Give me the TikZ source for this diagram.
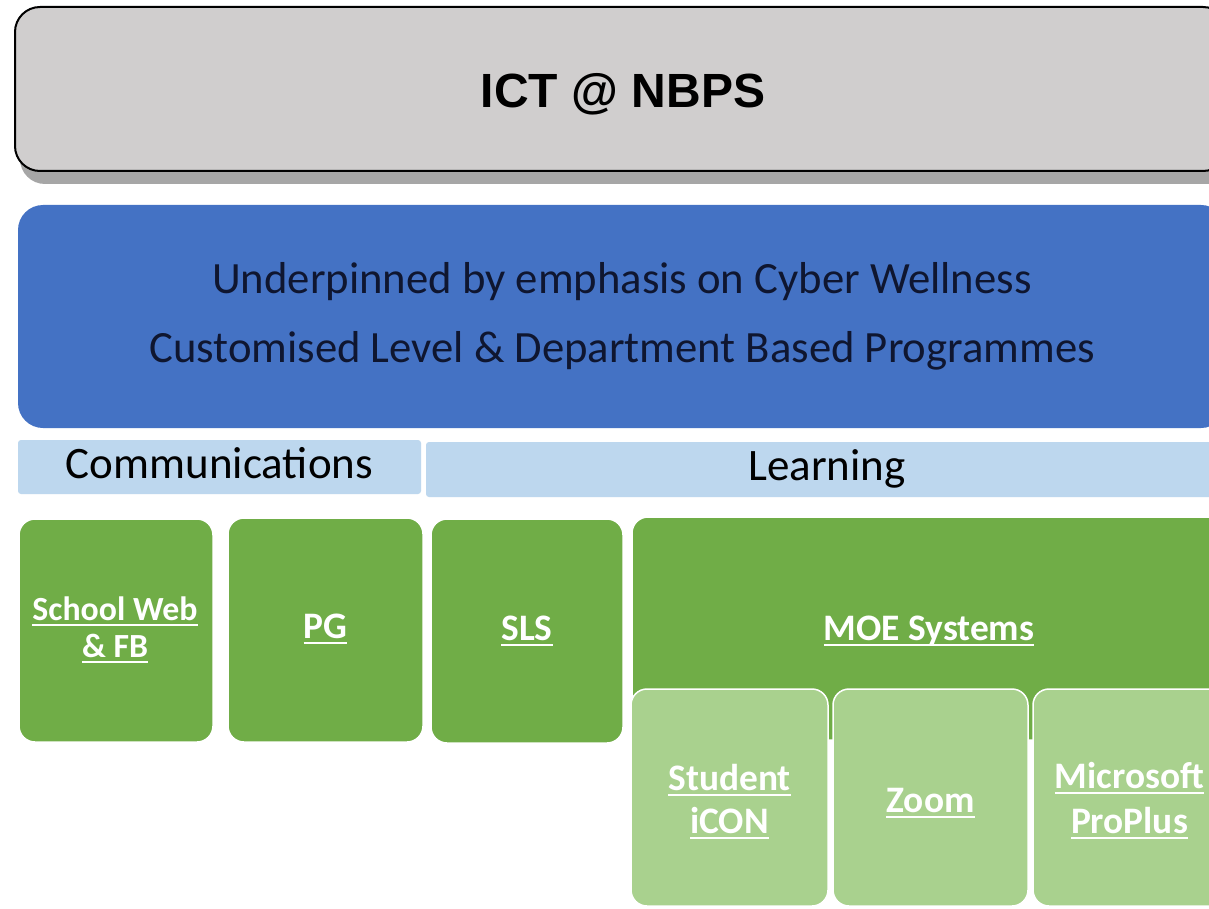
\documentclass[tikz,border=0pt]{standalone}
\usepackage{fontspec}
\setmainfont{Carlito}
\newfontfamily\arialfont{Liberation Sans}
\definecolor{titlegray}{HTML}{D0CECE}
\definecolor{shadowgray}{HTML}{A6A6A6}
\definecolor{mainblue}{HTML}{4472C4}
\definecolor{navytext}{HTML}{0F1630}
\definecolor{paleblue}{HTML}{BDD7EE}
\definecolor{darkgreen}{HTML}{70AD47}
\definecolor{lightgreen}{HTML}{A9D18E}
\newsavebox\ulbox
\newcommand{\uln}[1]{\sbox\ulbox{#1}\rlap{\rule[-6pt]{\wd\ulbox}{2.2pt}}\usebox\ulbox}
\tikzset{
  shapebox/.style={inner sep=0pt, outer sep=0pt, rectangle},
  greenbox/.style={shapebox, fill=darkgreen, draw=white, line width=1.5pt, rounded corners=16pt},
  lightbox/.style={shapebox, fill=lightgreen, draw=white, line width=1.5pt, rounded corners=16pt},
  barbox/.style={shapebox, fill=paleblue, rounded corners=3pt},
  greentext/.style={anchor=base, inner sep=0pt, text=white, font=\fontsize{37.4}{45}\selectfont\bfseries},
  bluetext/.style={anchor=base, inner sep=0pt, text=navytext, font=\fontsize{44.7}{52}\selectfont},
}
\begin{document}
\begin{tikzpicture}[x=1pt,y=-1pt]
\useasboundingbox (0,0) rectangle (1209,909);
\clip (0,0) rectangle (1209,909);
\fill[white] (0,0) rectangle (1209,909);
% title
\node[shapebox, fill=shadowgray, rounded corners=25pt, minimum width=1213pt, minimum height=164pt] (shadow) at (626.5,102) {};
\node[shapebox, fill=titlegray, draw=black, line width=2pt, rounded corners=25pt, minimum width=1213pt, minimum height=164pt] (titlebox) at (621.5,89) {};
\node[anchor=base, inner sep=0pt, font=\arialfont\bfseries\fontsize{48}{56}\selectfont] (title) at (623,108) {ICT @ NBPS};
% blue banner
\node[shapebox, fill=mainblue, rounded corners=25pt, minimum width=1208pt, minimum height=223pt] (banner) at (622,316.5) {};
\node[bluetext] (line1) at (622,293) {Underpinned by emphasis on Cyber Wellness};
\node[bluetext] (line2) at (622,362) {Customised Level \& Department Based Programmes};
% bars
\node[barbox, minimum width=403pt, minimum height=54pt] (commbar) at (219.5,467) {};
\node[bluetext, text=black, font=\fontsize{45}{52}\selectfont] (commtext) at (219.5,478) {Communications};
\node[barbox, minimum width=802pt, minimum height=55pt] (learnbar) at (827,469.5) {};
\node[bluetext, text=black, font=\fontsize{45}{52}\selectfont] (learntext) at (827,480) {Learning};
% green boxes
\node[greenbox, minimum width=194pt, minimum height=223pt] (school) at (116,630.5) {};
\node[greentext, font=\fontsize{33.8}{37}\selectfont\bfseries] (school1) at (115,620) {\uln{School Web}};
\node[greentext, font=\fontsize{33.8}{37}\selectfont\bfseries] (school2) at (115,657) {\uln{\& FB}};
\node[greenbox, minimum width=195pt, minimum height=224pt] (pg) at (325.5,630) {};
\node[greentext] (pgtext) at (325.5,638) {\uln{PG}};
\node[greenbox, minimum width=192pt, minimum height=224pt] (sls) at (527,631) {};
\node[greentext] (slstext) at (527,640) {\uln{SLS}};
\node[greenbox, minimum width=594pt, minimum height=223pt] (moe) at (929,628.5) {};
\node[greentext] (moetext) at (929,640) {\uln{MOE Systems}};
% light green boxes
\node[lightbox, minimum width=197pt, minimum height=217pt] (student) at (729.5,797.5) {};
\node[greentext] (student1) at (729.5,790) {\uln{Student}};
\node[greentext] (student2) at (729.5,833) {\uln{iCON}};
\node[lightbox, minimum width=195pt, minimum height=217pt] (zoom) at (930.5,797.5) {};
\node[greentext] (zoomtext) at (930.5,812) {\uln{Zoom}};
\node[lightbox, minimum width=193pt, minimum height=217pt] (ms) at (1129.5,797.5) {};
\node[greentext] (ms1) at (1129.5,788) {\uln{Microsoft}};
\node[greentext] (ms2) at (1129.5,833) {\uln{ProPlus}};
\end{tikzpicture}
\end{document}
